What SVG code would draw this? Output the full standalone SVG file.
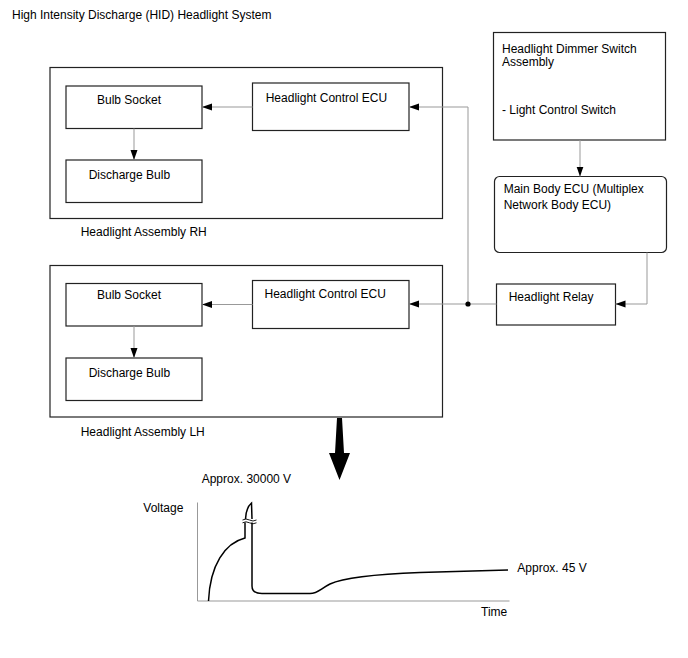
<svg xmlns="http://www.w3.org/2000/svg" width="688" height="658" viewBox="0 0 688 658">
<style>
text{font-family:"Liberation Sans",Arial,sans-serif;font-size:12px;fill:#000}
.box{fill:#fff;stroke:#222;stroke-width:1.2}
.con{fill:none;stroke:#999;stroke-width:1}
.curve{fill:none;stroke:#000;stroke-width:1.5}
</style>
<defs>
<marker id="ah" markerUnits="userSpaceOnUse" markerWidth="11" markerHeight="8" refX="10" refY="3.5" orient="auto">
<path d="M0,0 L10,3.5 L0,7 Z" fill="#000"/>
</marker>
</defs>
<rect width="688" height="658" fill="#fff"/>
<text x="12" y="19">High Intensity Discharge (HID) Headlight System</text>

<g id="assemblyRH">
<rect class="box" x="50" y="67.5" width="392.5" height="151"/>
<text x="80.7" y="236">Headlight Assembly RH</text>
</g>
<g id="bulbSocketRH"><rect class="box" x="66" y="86" width="136" height="42.5"/><text x="97" y="104">Bulb Socket</text></g>
<g id="dischargeBulbRH"><rect class="box" x="66" y="160" width="136" height="42.5"/><text x="88.7" y="179">Discharge Bulb</text></g>
<g id="controlEcuRH"><rect class="box" x="252.5" y="83" width="156.5" height="47.5"/><text x="265.7" y="101.7">Headlight Control ECU</text></g>

<g id="assemblyLH">
<rect class="box" x="50" y="265.5" width="392.5" height="151.5"/>
<text x="80.7" y="436">Headlight Assembly LH</text>
</g>
<g id="bulbSocketLH"><rect class="box" x="66" y="283.5" width="136" height="42.5"/><text x="97" y="299.3">Bulb Socket</text></g>
<g id="dischargeBulbLH"><rect class="box" x="66" y="358" width="136" height="42.5"/><text x="88.7" y="376.7">Discharge Bulb</text></g>
<g id="controlEcuLH"><rect class="box" x="252.5" y="280.5" width="156.5" height="48"/><text x="264.5" y="298.3">Headlight Control ECU</text></g>

<g id="dimmerSwitch"><rect class="box" x="493.5" y="32.5" width="172" height="107.5"/>
<text x="502" y="53">Headlight Dimmer Switch</text><text x="502" y="66.2">Assembly</text>
<text x="502" y="114.3">- Light Control Switch</text></g>
<g id="mainBodyEcu"><rect class="box" x="494.5" y="176.5" width="172" height="76" rx="5"/>
<text x="503.7" y="193">Main Body ECU (Multiplex</text><text x="503.7" y="208.5">Network Body ECU)</text></g>
<g id="headlightRelay"><rect class="box" x="496.5" y="284" width="119" height="41"/><text x="508.7" y="300.7">Headlight Relay</text></g>

<g id="connectors">
<path class="con" d="M580,140 V176.5" marker-end="url(#ah)"/>
<path class="con" d="M647,252.5 V304 H615.5" marker-end="url(#ah)"/>
<path class="con" d="M496.5,304 H409" marker-end="url(#ah)"/>
<path class="con" d="M468,304 V107 H409" marker-end="url(#ah)"/>
<path class="con" d="M252.5,107 H202" marker-end="url(#ah)"/>
<path class="con" d="M134,128.5 V160" marker-end="url(#ah)"/>
<path class="con" d="M252.5,304.5 H202" marker-end="url(#ah)"/>
<path class="con" d="M134,326 V358" marker-end="url(#ah)"/>
<circle cx="468" cy="304" r="2.6" fill="#000"/>
</g>

<polygon points="337,418 342,418 344,453 350,453 339.5,480 329,453 335,453" fill="#000"/>

<g id="graph">
<path d="M197.5,502.5 V601 H509.5" fill="none" stroke="#999" stroke-width="1"/>
<path class="curve" d="M208.5,601 C210,565 225,543 245,538 V522.5"/>
<path class="curve" d="M245.5,519 C246,510 249,505 251.5,503 L252,519"/>
<path class="curve" d="M252,522.5 V586 C252,592 256,593.5 262,593.5 H310 C318,593.5 320,589 330,584 C345,577 380,574 420,572.5 L508,570"/>
<path d="M242.5,520 q3.5,-2 7,0 t7,0 M242.5,522.8 q3.5,-2 7,0 t7,0" fill="none" stroke="#000" stroke-width="0.9"/>
<text x="201.7" y="482.7">Approx. 30000 V</text>
<text x="143.3" y="512">Voltage</text>
<text x="517.3" y="572">Approx. 45 V</text>
<text x="481" y="615.7">Time</text>
</g>
</svg>
